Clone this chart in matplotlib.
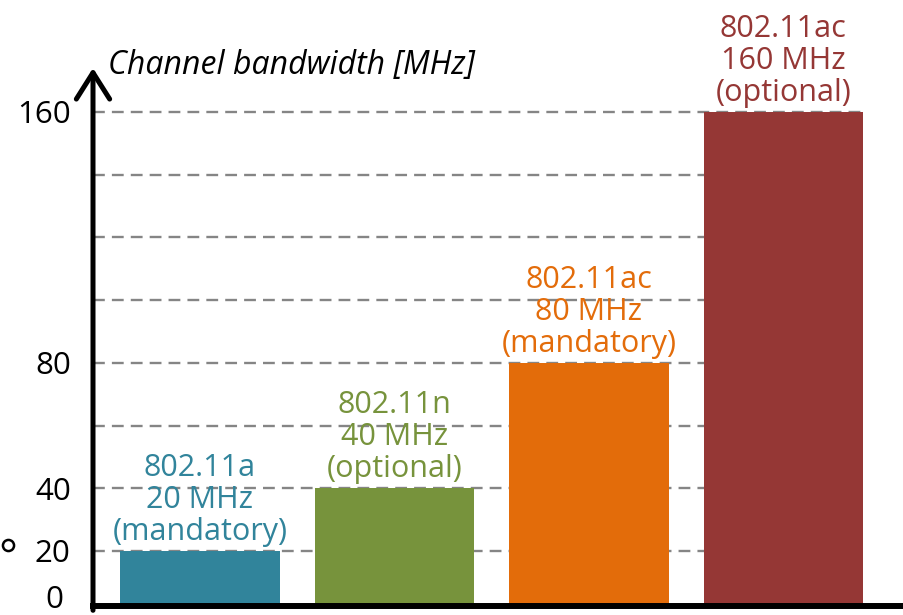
import matplotlib
matplotlib.use("Agg")
import matplotlib.pyplot as plt
from matplotlib.transforms import blended_transform_factory

# Channel bandwidths of the Wi-Fi generations
standards = ["802.11a", "802.11n", "802.11ac", "802.11ac"]
bandwidths = [20, 40, 80, 160]
status = ["(mandatory)", "(optional)", "(mandatory)", "(optional)"]
colors = ["#31849B", "#77933C", "#E36C0A", "#953735"]
grid_levels = [20, 40, 60, 80, 100, 120, 140, 160]
tick_values = [20, 40, 80, 160]
tick_labels = ["20", "40", "80", "160"]
axis_title = "Channel bandwidth [MHz]"

FONT = "Open Sans"

W, H = 904, 615
fig = plt.figure(figsize=(W / 100, H / 100), dpi=100)
ax = fig.add_axes([93 / W, 9 / H, 811 / W, (606 - 68) / H])

x = list(range(len(bandwidths)))
bar_w = 0.82
ax.set_xlim(-0.55, 3.62)
ax.set_ylim(2.45, 174)

# dashed guide lines behind the bars
ax.hlines(grid_levels, -0.55, x[-1] + bar_w / 2 + 0.005, colors="#858585",
          linestyles=(0, (5, 3)), linewidth=1.7, zorder=1)

ax.bar(x, bandwidths, width=bar_w, color=colors, zorder=2)

for xi, std, bw, st, c in zip(x, standards, bandwidths, status, colors):
    ax.annotate(f"{std}\n{bw} MHz\n{st}", (xi, bw), xytext=(0, 3),
                textcoords="offset points", ha="center", va="bottom",
                color=c, fontsize=22, family=FONT, linespacing=1.08,
                zorder=3)

for s in ["top", "right", "left"]:
    ax.spines[s].set_visible(False)
ax.spines["bottom"].set_linewidth(4.3)
ax.spines["bottom"].set_zorder(4)
ax.set_xticks([])
ax.set_yticks(tick_values)
ax.set_yticklabels(tick_labels, family=FONT, fontsize=22.5)
ax.tick_params(axis="y", length=0, pad=16)

# zero label sits at the baseline
trans = blended_transform_factory(ax.transAxes, ax.transAxes)
ax.text(-0.037, 0.011, "0", transform=trans, ha="right", va="center",
        family=FONT, fontsize=22.5)

# vertical axis with an open arrow head
ax.annotate("", xy=(0, 1.0), xytext=(0, -0.008), xycoords="axes fraction",
            arrowprops=dict(arrowstyle="->,head_width=0.6,head_length=0.95",
                            lw=3.6, color="black", shrinkA=0, shrinkB=0,
                            mutation_scale=20),
            annotation_clip=False)

ax.text(0.018, 1.005, axis_title, transform=ax.transAxes, ha="left",
        va="center", family=FONT, style="italic", fontsize=23)

fig.lines.append(plt.Line2D([8 / W], [1 - 545 / H], marker="o",
                            markersize=8, markerfacecolor="white",
                            markeredgecolor="black", markeredgewidth=1.8,
                            transform=fig.transFigure))

fig.savefig("out.png", dpi=100)
